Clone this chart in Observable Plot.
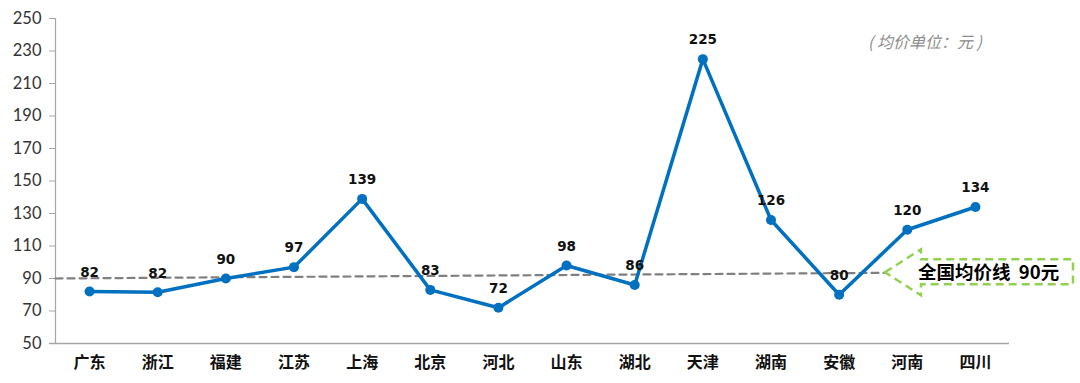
<!DOCTYPE html>
<html>
<head>
<meta charset="utf-8">
<script src="https://cdn.jsdelivr.net/npm/d3@7"></script>
<script src="https://cdn.jsdelivr.net/npm/@observablehq/plot@0.6"></script>
<style>
  html, body { margin: 0; padding: 0; background: #fff; }
  #chart { position: relative; width: 1080px; height: 383px; }
</style>
</head>
<body>
<div id="chart"></div>
<script>
// ---- data ----
const provinces = ["广东","浙江","福建","江苏","上海","北京","河北","山东","湖北","天津","湖南","安徽","河南","四川"];
const avgPrices = [82, 81.5, 90, 97, 139, 83, 72, 98, 86, 225, 126, 80, 120, 134];
const priceLabels = ["82","82","90","97","139","83","72","98","86","225","126","80","120","134"];
const yTicks = [50, 70, 90, 110, 130, 150, 170, 190, 210, 230, 250];
const nationalAvg = 90;
const nationalAvgLineEnd = 93.5;   // the dashed line drawn in the picture rises slightly
const nationalAvgLineSpan = [-0.5, 11.68];
const avgLabel = "全国均价线  90元";
const unitNote = "( 均价单位：元 )";

const data = provinces.map((p, i) => ({i, province: p, value: avgPrices[i], label: priceLabels[i]}));
const avgLineData = [
  {x: nationalAvgLineSpan[0], y: nationalAvg},
  {x: nationalAvgLineSpan[1], y: nationalAvgLineEnd}
];

const blue = "#0070C0";
const cjk = "'Noto Sans CJK SC', 'Noto Sans', sans-serif";

const plot = Plot.plot({
  width: 1080,
  height: 383,
  marginLeft: 55,
  marginRight: 71,
  marginTop: 18,
  marginBottom: 40,
  style: {background: "#fff", overflow: "visible"},
  x: {type: "linear", domain: [-0.5, provinces.length - 0.5]},
  y: {domain: [50, 250]},
  marks: [
    Plot.axisY({
      ticks: yTicks, tickSize: 6, tickPadding: 8, stroke: "#a6a6a6",
      fill: "#333", fontSize: 16.5, fontFamily: "Lato, 'Liberation Sans', sans-serif", label: null
    }),
    Plot.axisX({
      ticks: provinces.map((_, i) => i), tickFormat: i => provinces[i], tickSize: 0, tickPadding: 13,
      fill: "#111", fontSize: 16, fontWeight: "bold", fontFamily: cjk, label: null
    }),
    Plot.ruleX([-0.5], {stroke: "#a6a6a6", strokeWidth: 1.2}),
    Plot.ruleY([50], {x1: -0.59, x2: provinces.length - 0.5, stroke: "#a6a6a6", strokeWidth: 1.5}),
    Plot.line(avgLineData, {x: "x", y: "y", stroke: "#7f7f7f", strokeWidth: 2.2, strokeDasharray: "7,5"}),
    Plot.line(data, {x: "i", y: "value", stroke: blue, strokeWidth: 3.5}),
    Plot.dot(data, {x: "i", y: "value", r: 5, fill: blue, stroke: null}),
    Plot.text(data, {
      x: "i", y: "value", text: "label", dy: -19, fill: "#111",
      fontSize: 13.5, fontWeight: "bold", fontFamily: "'DejaVu Sans', sans-serif"
    })
  ]
});
document.getElementById("chart").appendChild(plot);

// ---- annotations positioned from the scales ----
const sx = plot.scale("x"), sy = plot.scale("y");
const svg = d3.select(plot);
const tipX = sx.apply(nationalAvgLineSpan[1]);
const tipY = sy.apply(nationalAvgLineEnd);
const headLen = 36, headHalf = 23, bodyTop = 13, bodyBot = 12, bodyLen = 152;
const path = [
  [tipX, tipY],
  [tipX + headLen, tipY - headHalf],
  [tipX + headLen, tipY - bodyTop],
  [tipX + headLen + bodyLen, tipY - bodyTop],
  [tipX + headLen + bodyLen, tipY + bodyBot],
  [tipX + headLen, tipY + bodyBot],
  [tipX + headLen, tipY + headHalf]
];
svg.append("path")
  .attr("d", "M" + path.map(p => p.join(",")).join("L") + "Z")
  .attr("fill", "none")
  .attr("stroke", "#92D050")
  .attr("stroke-width", 2.5)
  .attr("stroke-dasharray", "8,5")
  .attr("stroke-linejoin", "miter");
svg.append("text")
  .attr("x", tipX + headLen - 3)
  .attr("y", tipY)
  .attr("dy", "0.36em")
  .attr("text-anchor", "start")
  .attr("font-family", cjk)
  .attr("font-size", 18.5)
  .attr("font-weight", "bold")
  .attr("fill", "#000")
  .style("white-space", "pre")
  .text(avgLabel);
svg.append("text")
  .attr("x", sx.apply(11.43))
  .attr("y", 42)
  .attr("dy", "0.36em")
  .attr("text-anchor", "start")
  .attr("font-family", cjk)
  .attr("font-size", 16)
  .attr("font-style", "italic")
  .attr("fill", "#8c8c8c")
  .style("white-space", "pre")
  .text(unitNote);
</script>
</body>
</html>
